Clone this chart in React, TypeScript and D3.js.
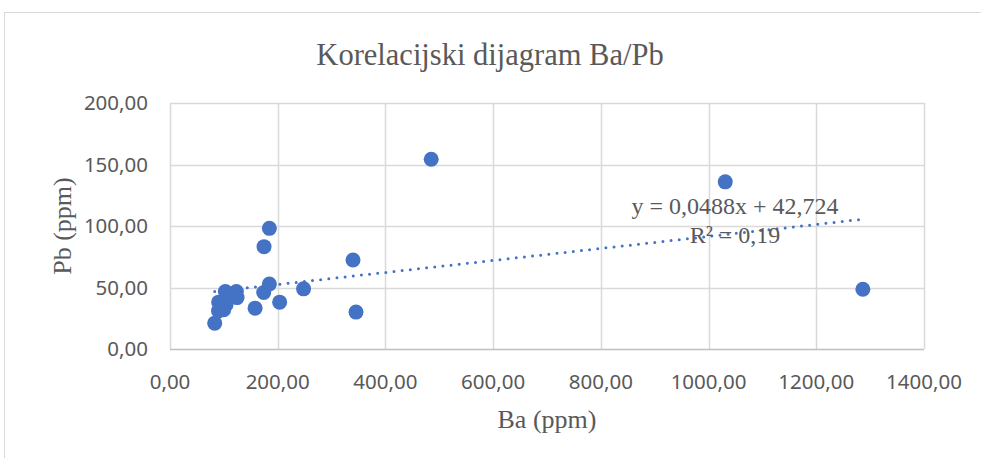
import React, { useEffect, useRef } from "react";
import * as d3 from "d3";

// Ba (ppm) / Pb (ppm) sample pairs
const baValues = [184.5, 174.6, 339.8, 184.5, 174, 248, 203.6, 158, 345.4, 83, 102.8, 123.2, 124.5, 90.4, 99.7, 90, 104, 112, 485, 1031, 1286.5];
const pbValues = [98.1, 83.2, 72.4, 52.9, 45.9, 48.9, 38.1, 33.2, 30, 21, 46.7, 46.7, 41.8, 38.1, 31.9, 31, 36, 43, 154.3, 135.9, 48.6];

const xTicks = [0, 200, 400, 600, 800, 1000, 1200, 1400];
const yTicks = [0, 50, 100, 150, 200];

const slope = 0.0488;
const intercept = 42.724;
const rSquared = "0,19";

const fmt = (v: number) => v.toFixed(2).replace(".", ",");

const App = () => {
  const ref = useRef<SVGSVGElement>(null);
  const W = 981;
  const H = 458;
  const margin = { top: 103, right: 57, bottom: 109, left: 170 };
  const width = W - margin.left - margin.right;
  const height = H - margin.top - margin.bottom;

  useEffect(() => {
    const svg = d3.select(ref.current);
    svg.selectAll("*").remove();

    const textColor = "#595959";
    const serif = "'Liberation Serif', 'Times New Roman', serif";
    const sans = "'Noto Sans', 'Open Sans', sans-serif";

    // chart border
    svg
      .append("rect")
      .attr("x", 4.5)
      .attr("y", 12.5)
      .attr("width", W + 10)
      .attr("height", H + 10)
      .attr("fill", "white")
      .attr("stroke", "#d9d9d9");

    const xScale = d3.scaleLinear().domain([0, 1400]).range([0, width]);
    const yScale = d3.scaleLinear().domain([0, 200]).range([height, 0]);

    const g = svg
      .append("g")
      .attr("transform", `translate(${margin.left},${margin.top})`);

    //// Grid
    g.append("g")
      .selectAll("line")
      .data(xTicks)
      .join("line")
      .attr("x1", (d) => Math.round(xScale(d)) + 0.5)
      .attr("x2", (d) => Math.round(xScale(d)) + 0.5)
      .attr("y1", 0)
      .attr("y2", height)
      .attr("stroke", "#d9d9d9")
      .attr("stroke-width", 1.5);

    g.append("g")
      .selectAll("line")
      .data(yTicks)
      .join("line")
      .attr("x1", 0)
      .attr("x2", width)
      .attr("y1", (d) => Math.round(yScale(d)) + 0.5)
      .attr("y2", (d) => Math.round(yScale(d)) + 0.5)
      .attr("stroke", (d) => (d === 0 ? "#bfbfbf" : "#d9d9d9"))
      .attr("stroke-width", 1.5);

    //// Tick labels
    g.append("g")
      .selectAll("text")
      .data(xTicks)
      .join("text")
      .attr("x", (d) => xScale(d))
      .attr("y", height + 40)
      .attr("text-anchor", "middle")
      .attr("font-family", sans)
      .attr("font-size", 20.5)
      .attr("fill", textColor)
      .text((d) => fmt(d));

    g.append("g")
      .selectAll("text")
      .data(yTicks)
      .join("text")
      .attr("x", -22)
      .attr("y", (d) => yScale(d) + 7)
      .attr("text-anchor", "end")
      .attr("font-family", sans)
      .attr("font-size", 20.5)
      .attr("fill", textColor)
      .text((d) => fmt(d));

    //// Titles
    svg
      .append("text")
      .attr("x", 490)
      .attr("y", 65)
      .attr("text-anchor", "middle")
      .attr("font-family", serif)
      .attr("font-size", 30.5)
      .attr("fill", textColor)
      .text("Korelacijski dijagram Ba/Pb");

    svg
      .append("text")
      .attr("x", margin.left + width / 2)
      .attr("y", 428)
      .attr("text-anchor", "middle")
      .attr("font-family", serif)
      .attr("font-size", 26)
      .attr("fill", textColor)
      .text("Ba (ppm)");

    svg
      .append("text")
      .attr("transform", `translate(71,${margin.top + height / 2}) rotate(-90)`)
      .attr("text-anchor", "middle")
      .attr("font-family", serif)
      .attr("font-size", 26)
      .attr("fill", textColor)
      .text("Pb (ppm)");

    //// Points
    const pts = baValues.map((b, i) => [b, pbValues[i]]);
    g.append("g")
      .selectAll("circle")
      .data(pts)
      .join("circle")
      .attr("cx", (d) => xScale(d[0]))
      .attr("cy", (d) => yScale(d[1]))
      .attr("r", 7.5)
      .attr("fill", "#4472c4");

    //// Trend line
    const [minBa, maxBa] = d3.extent(baValues) as [number, number];
    const line = d3
      .line<number>()
      .x((d) => xScale(d))
      .y((d) => yScale(slope * d + intercept));
    g.append("path")
      .datum([minBa, maxBa])
      .attr("d", line)
      .attr("fill", "none")
      .attr("stroke", "#4472c4")
      .attr("stroke-width", 3)
      .attr("stroke-linecap", "round")
      .attr("stroke-dasharray", "0 8.2");

    //// Equation label
    svg
      .append("text")
      .attr("x", 735)
      .attr("y", 214)
      .attr("text-anchor", "middle")
      .attr("font-family", serif)
      .attr("font-size", 24)
      .attr("fill", textColor)
      .text(`y = ${String(slope).replace(".", ",")}x + ${String(intercept).replace(".", ",")}`);

    svg
      .append("text")
      .attr("x", 735)
      .attr("y", 243)
      .attr("text-anchor", "middle")
      .attr("font-family", serif)
      .attr("font-size", 24)
      .attr("fill", textColor)
      .text(`R² = ${rSquared}`);
  }, []);

  return (
    <div style={{ position: "fixed", left: 0, top: 0, width: W, height: H, background: "white" }}>
      <svg ref={ref} width={W} height={H}></svg>
    </div>
  );
};

export default App;
